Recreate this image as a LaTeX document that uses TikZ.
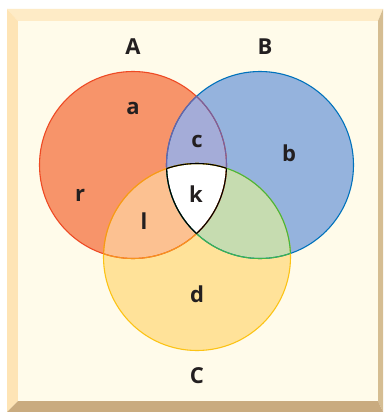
\documentclass[tikz,border=0pt]{standalone}
\usepackage{fontspec}
\setmainfont{Open Sans}
\definecolor{frametop}{HTML}{FEEBC6}
\definecolor{frameleft}{HTML}{FEE4B5}
\definecolor{frameright}{HTML}{D5BD92}
\definecolor{framebottom}{HTML}{C9AB7F}
\definecolor{paper}{HTML}{FFFBEA}
\definecolor{fillA}{HTML}{F7946A}
\definecolor{fillB}{HTML}{95B3DD}
\definecolor{fillC}{HTML}{FFE299}
\definecolor{fillAB}{HTML}{A4ACD8}
\definecolor{fillAC}{HTML}{FCC191}
\definecolor{fillBC}{HTML}{C6DCB0}
\definecolor{lineA}{HTML}{EE4A24}
\definecolor{lineB}{HTML}{0072BC}
\definecolor{lineC}{HTML}{FCC315}
\definecolor{lineAB}{HTML}{6E62A6}
\definecolor{lineAC}{HTML}{F7941D}
\definecolor{lineBC}{HTML}{3EB54A}
\definecolor{ink}{HTML}{231F20}
\begin{document}
\begin{tikzpicture}[x=1pt,y=-1pt,
    lbl/.style={font=\fontsize{22}{24}\selectfont\bfseries, text=ink, inner sep=0pt},
    rim/.style={line width=1.1pt}]
    \useasboundingbox (0,0) rectangle (383,412);
    \fill[white] (0,0) rectangle (383,412);
    \fill[frametop] (7,9) -- (383,9) -- (378,21) -- (18,21) -- cycle;
    \fill[frameleft] (7,9) -- (18,21) -- (18,401) -- (7,412) -- cycle;
    \fill[frameright] (383,9) -- (383,412) -- (378,401) -- (378,21) -- cycle;
    \fill[framebottom] (7,412) -- (18,401) -- (378,401) -- (383,412) -- cycle;
    \fill[paper] (18,21) rectangle (378,401);
    \coordinate (cA) at (133,165);
    \coordinate (cB) at (260,165);
    \coordinate (cC) at (197,257);
    \def\rad{93.5pt}
    \fill[fillA] (cA) circle[radius=\rad];
    \fill[fillB] (cB) circle[radius=\rad];
    \fill[fillC] (cC) circle[radius=\rad];
    \begin{scope}
        \clip (cA) circle[radius=\rad];
        \fill[fillAB] (cB) circle[radius=\rad];
        \fill[fillAC] (cC) circle[radius=\rad];
    \end{scope}
    \begin{scope}
        \clip (cB) circle[radius=\rad];
        \fill[fillBC] (cC) circle[radius=\rad];
        \clip (cA) circle[radius=\rad];
        \fill[white] (cC) circle[radius=\rad];
    \end{scope}
    \draw[rim, lineA] (cA) circle[radius=\rad];
    \draw[rim, lineB] (cB) circle[radius=\rad];
    \draw[rim, lineC] (cC) circle[radius=\rad];
    \begin{scope}
        \clip (cB) circle[radius=\rad];
        \draw[rim, lineAB] (cA) circle[radius=\rad];
        \draw[rim, lineBC] (cC) circle[radius=\rad];
    \end{scope}
    \begin{scope}
        \clip (cA) circle[radius=\rad];
        \draw[rim, lineAB] (cB) circle[radius=\rad];
        \draw[rim, lineAC] (cC) circle[radius=\rad];
    \end{scope}
    \begin{scope}
        \clip (cC) circle[radius=\rad];
        \draw[rim, lineAC] (cA) circle[radius=\rad];
        \draw[rim, lineBC] (cB) circle[radius=\rad];
    \end{scope}
    \begin{scope}
        \clip (cA) circle[radius=\rad];
        \clip (cB) circle[radius=\rad];
        \draw[rim, black] (cC) circle[radius=\rad];
    \end{scope}
    \begin{scope}
        \clip (cB) circle[radius=\rad];
        \clip (cC) circle[radius=\rad];
        \draw[rim, black] (cA) circle[radius=\rad];
    \end{scope}
    \begin{scope}
        \clip (cA) circle[radius=\rad];
        \clip (cC) circle[radius=\rad];
        \draw[rim, black] (cB) circle[radius=\rad];
    \end{scope}
    \node[lbl] (setA) at (133,47) {A};
    \node[lbl] (setB) at (265,47) {B};
    \node[lbl] (setC) at (197,376) {C};
    \node[lbl] (ra) at (133,108.5) {a};
    \node[lbl] (rb) at (289,153.5) {b};
    \node[lbl] (rc) at (197,141) {c};
    \node[lbl] (rk) at (196,194.5) {k};
    \node[lbl] (rr) at (80,195) {r};
    \node[lbl] (rl) at (144,221.5) {l};
    \node[lbl] (rd) at (197,294.5) {d};
\end{tikzpicture}
\end{document}
